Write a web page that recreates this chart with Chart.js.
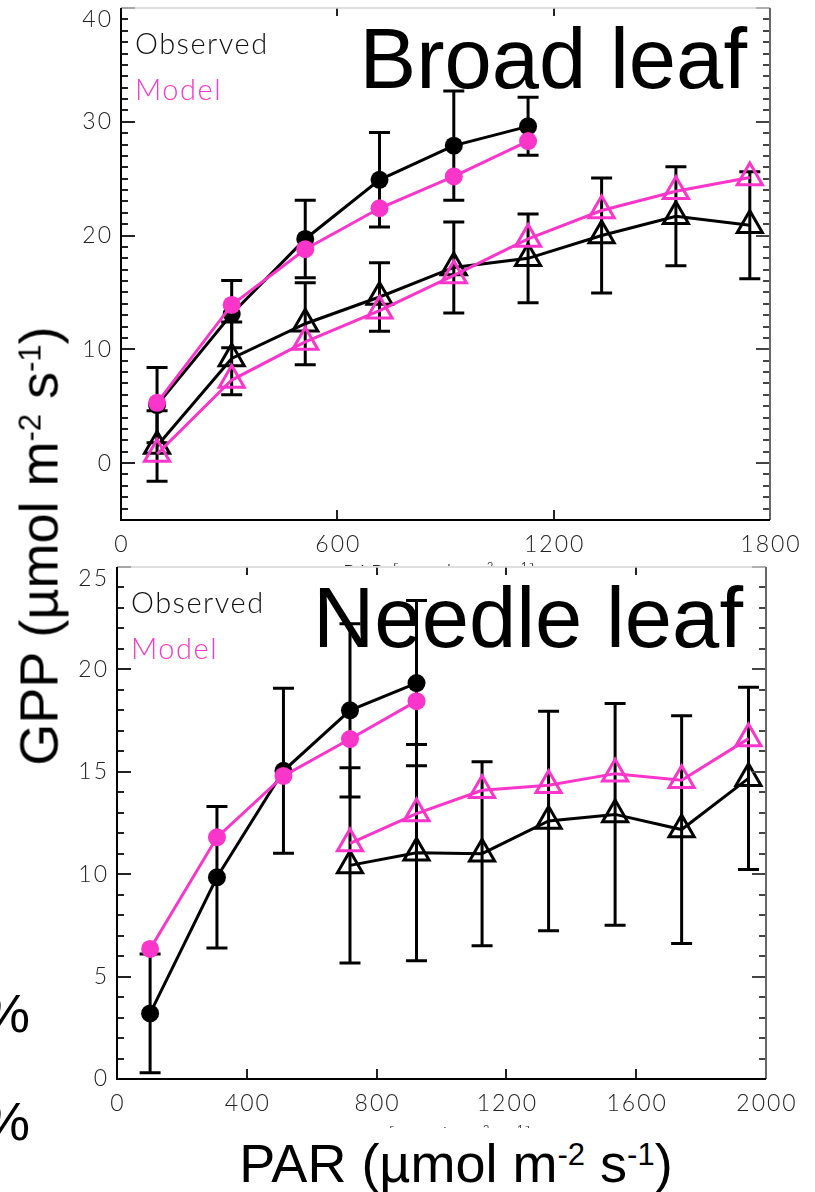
<!DOCTYPE html>
<html>
<head>
<meta charset="utf-8">
<script src="https://cdn.jsdelivr.net/npm/chart.js@4.4.1/dist/chart.umd.min.js"></script>
<style>
html, body { margin: 0; padding: 0; background: #fff; }
body { position: relative; width: 815px; height: 1192px; overflow: hidden; font-family: "Liberation Sans", Arial, sans-serif; }
canvas { position: absolute; left: 0; }
#c1 { top: 0; }
#c2 { top: 540px; }
.big { position: absolute; font-size: 54px; line-height: 54px; color: #000; white-space: nowrap; }
.big sup { font-size: 31px; vertical-align: baseline; position: relative; top: -17px; }
#gpp { left: 43px; top: 546px; transform: translate(-50%, -50%) rotate(-90deg); }
#parbg { position: absolute; left: 0; top: 1128px; width: 815px; height: 64px; background: #fff; }
#par { left: 456px; top: 1136px; transform: translateX(-50%); }
.pct { left: -18px; }
</style>
</head>
<body>
<canvas id="c1" width="815" height="600"></canvas>
<canvas id="c2" width="815" height="600"></canvas>
<div id="gpp" class="big">GPP (µmol m<sup>-2</sup> s<sup>-1</sup>)</div>
<div id="parbg"></div>
<div id="par" class="big">PAR (µmol m<sup>-2</sup> s<sup>-1</sup>)</div>
<div class="big pct" style="top:986px">%</div>
<div class="big pct" style="top:1094px">%</div>
<script>
// ---- Broad leaf (top panel) ----
var broadCircX = [100, 307, 511, 717, 923, 1129];
var broadObsCirc = [5.1, 13.1, 19.7, 24.9, 27.9, 29.6];
var broadObsCircErr = [3.3, 2.95, 3.4, 4.15, 4.8, 2.55];
var broadModCirc = [5.3, 13.9, 18.8, 22.4, 25.2, 28.3];
var broadTriX = [100, 307, 511, 717, 923, 1129, 1333, 1539, 1744];
var broadObsTri = [1.5, 9.2, 12.25, 14.6, 17.2, 18.0, 20.0, 21.7, 20.9];
var broadObsTriErr = [3.1, 3.2, 3.6, 3.0, 4.0, 3.9, 5.05, 4.35, 4.7];
var broadModTri = [0.8, 7.3, 10.65, 13.4, 16.5, 19.7, 22.2, 23.9, 25.1];
var broadXTicks = [0, 600, 1200, 1800];
var broadYTicks = [0, 10, 20, 30, 40];

// ---- Needle leaf (bottom panel) ----
var needleCircX = [102, 308, 513, 718, 923];
var needleObsCirc = [3.2, 9.85, 15.05, 18.0, 19.33];
var needleObsCircErr = [2.9, 3.45, 4.03, 4.23, 4.04];
var needleModCirc = [6.35, 11.8, 14.8, 16.6, 18.45];
var needleTriX = [718, 923, 1125, 1330, 1535, 1740, 1946];
var needleObsTri = [10.43, 11.05, 11.0, 12.6, 12.92, 12.18, 14.68];
var needleObsTriErr = [4.77, 5.28, 4.49, 5.36, 5.41, 5.56, 4.45];
var needleModTri = [11.5, 12.96, 14.1, 14.34, 14.91, 14.59, 16.62];
var needleXTicks = [0, 400, 800, 1200, 1600, 2000];
var needleYTicks = [0, 5, 10, 15, 20, 25];

var PINK = '#f936c9';
var TICK_FONT = '300 23px Lato, sans-serif';

function series(xs, ys, color, style, order, errs) {
    var circ = style === 'circle';
    return {
        data: xs.map(function (x, i) { return { x: x, y: ys[i] }; }),
        borderColor: color,
        borderWidth: 3,
        pointStyle: style,
        pointRadius: circ ? 9 : 14.5,
        pointBorderWidth: circ ? 0 : 3,
        pointBackgroundColor: circ ? color : 'rgba(0,0,0,0)',
        pointBorderColor: color,
        tension: 0,
        fill: false,
        clip: false,
        order: order,
        errors: errs
    };
}

function makePanel(id, p) {
    var panelPlugin = {
        id: 'panel',
        beforeDraw: function (chart) {
            var ctx = chart.ctx, a = chart.chartArea;
            if (p.cover) {
                ctx.save();
                ctx.fillStyle = '#fff';
                ctx.fillRect(0, a.top - 1, chart.width, chart.height - a.top + 1);
                ctx.restore();
            }
        },
        beforeDatasetsDraw: function (chart) {
            var ctx = chart.ctx, a = chart.chartArea;
            var xs = chart.scales.x, ys = chart.scales.y;
            ctx.save();
            ctx.letterSpacing = '0px';
            ctx.fillStyle = '#000';
            ctx.font = '85px "Liberation Sans", Arial, sans-serif';
            ctx.textAlign = 'right';
            ctx.textBaseline = 'alphabetic';
            ctx.fillText(p.title, a.right - 23, a.top + 80);
            ctx.font = '300 29px Lato, sans-serif';
            ctx.letterSpacing = '1.5px';
            ctx.textAlign = 'left';
            ctx.fillStyle = '#111';
            ctx.fillText('Observed', a.left + 14, a.top + 46);
            ctx.fillStyle = PINK;
            ctx.fillText('Model', a.left + 14, a.top + 92);
            ctx.restore();

            // error bars on observed series
            ctx.save();
            ctx.strokeStyle = '#000';
            ctx.lineWidth = 3;
            chart.data.datasets.forEach(function (d) {
                if (!d.errors) return;
                d.data.forEach(function (pt, i) {
                    var px = xs.getPixelForValue(pt.x);
                    var top = ys.getPixelForValue(pt.y + d.errors[i]);
                    var bot = ys.getPixelForValue(pt.y - d.errors[i]);
                    ctx.beginPath();
                    ctx.moveTo(px, top); ctx.lineTo(px, bot);
                    ctx.moveTo(px - 10.5, top); ctx.lineTo(px + 10.5, top);
                    ctx.moveTo(px - 10.5, bot); ctx.lineTo(px + 10.5, bot);
                    ctx.stroke();
                });
            });
            ctx.restore();
        },
        afterDatasetsDraw: function (chart) {
            var ctx = chart.ctx, a = chart.chartArea;
            var xs = chart.scales.x, ys = chart.scales.y;
            ctx.save();
            ctx.lineWidth = 2;
            // y ticks, inward, both sides
            for (var v = p.yMin; v <= p.yMax + 1e-9; v += 1) {
                var py = Math.round(ys.getPixelForValue(v));
                var major = Math.abs(v % p.yMajor) < 1e-9;
                var len = major ? 14 : 7;
                ctx.strokeStyle = '#222';
                ctx.beginPath(); ctx.moveTo(a.left, py); ctx.lineTo(a.left + len, py); ctx.stroke();
                ctx.strokeStyle = '#444';
                ctx.beginPath(); ctx.moveTo(a.right, py); ctx.lineTo(a.right - len, py); ctx.stroke();
            }
            // x ticks, inward, top and bottom
            ctx.strokeStyle = '#222';
            p.xTicks.forEach(function (t) {
                var px = Math.round(xs.getPixelForValue(t));
                ctx.beginPath(); ctx.moveTo(px, a.bottom); ctx.lineTo(px, a.bottom - 10); ctx.stroke();
                ctx.beginPath(); ctx.moveTo(px, a.top); ctx.lineTo(px, a.top + 8); ctx.stroke();
            });
            // frame
            ctx.strokeStyle = '#d4d4d4'; ctx.lineWidth = 1.5;
            ctx.beginPath(); ctx.moveTo(a.left, a.top); ctx.lineTo(a.right, a.top); ctx.stroke();
            ctx.strokeStyle = '#666'; ctx.lineWidth = 2;
            ctx.beginPath(); ctx.moveTo(a.right, a.top); ctx.lineTo(a.right, a.bottom); ctx.stroke();
            ctx.strokeStyle = '#000'; ctx.lineWidth = 2;
            ctx.beginPath(); ctx.moveTo(a.left, a.top); ctx.lineTo(a.left, a.bottom); ctx.lineTo(a.right, a.bottom); ctx.stroke();

            // tick labels
            ctx.font = TICK_FONT;
            ctx.letterSpacing = '2px';
            ctx.fillStyle = '#222';
            ctx.textBaseline = 'middle';
            ctx.textAlign = 'right';
            p.yTicks.forEach(function (t) {
                var py = ys.getPixelForValue(t) + (t === p.yMax ? 12 : 0);
                ctx.fillText(String(t), a.left - 8, py);
            });
            ctx.textAlign = 'center';
            p.xTicks.forEach(function (t) {
                ctx.fillText(String(t), xs.getPixelForValue(t) + 1, a.bottom + 25);
            });
            ctx.restore();
        },
        afterDraw: function (chart) {
            // small x title (mostly hidden under the next panel / big label)
            var ctx = chart.ctx, a = chart.chartArea;
            ctx.save();
            ctx.letterSpacing = '1px';
            ctx.font = '300 22px Lato, sans-serif';
            ctx.fillStyle = '#222';
            ctx.textAlign = 'center';
            ctx.textBaseline = 'top';
            ctx.fillText('PAR [µmol m⁻² s⁻¹]', (a.left + a.right) / 2 - 6, p.subTitleY);
            ctx.restore();
        }
    };

    return new Chart(document.getElementById(id), {
        type: 'line',
        data: { datasets: p.datasets },
        options: {
            responsive: false,
            animation: false,
            devicePixelRatio: 1,
            layout: { autoPadding: false, padding: { top: p.padTop, right: p.padRight, left: 0, bottom: 0 } },
            plugins: { legend: { display: false }, tooltip: { enabled: false } },
            scales: {
                x: {
                    type: 'linear',
                    min: p.xMin, max: p.xMax,
                    grid: { display: false, drawTicks: false },
                    border: { display: false },
                    ticks: { display: false },
                    afterFit: function (s) { s.height = p.xHeight; s.paddingLeft = 0; s.paddingRight = 0; }
                },
                y: {
                    type: 'linear',
                    min: p.yMin, max: p.yMax,
                    grid: { display: false, drawTicks: false },
                    border: { display: false },
                    ticks: { display: false },
                    afterFit: function (s) { s.width = p.yWidth; s.paddingTop = 0; s.paddingBottom = 0; }
                }
            }
        },
        plugins: [panelPlugin]
    });
}

makePanel('c1', {
    title: 'Broad leaf',
    xMin: 0, xMax: 1800, yMin: -5, yMax: 40, yMajor: 10,
    xTicks: broadXTicks, yTicks: broadYTicks,
    padTop: 8, padRight: 45, yWidth: 121, xHeight: 80,
    subTitleY: 562, cover: false,
    datasets: [
        series(broadCircX, broadModCirc, PINK, 'circle', 0),
        series(broadTriX, broadModTri, PINK, 'triangle', 0),
        series(broadCircX, broadObsCirc, '#000', 'circle', 1, broadObsCircErr),
        series(broadTriX, broadObsTri, '#000', 'triangle', 1, broadObsTriErr)
    ]
});

makePanel('c2', {
    title: 'Needle leaf',
    xMin: 0, xMax: 2000, yMin: 0, yMax: 25, yMajor: 5,
    xTicks: needleXTicks, yTicks: needleYTicks,
    padTop: 27, padRight: 49, yWidth: 117, xHeight: 61,
    subTitleY: 585, cover: true,
    datasets: [
        series(needleCircX, needleModCirc, PINK, 'circle', 0),
        series(needleTriX, needleModTri, PINK, 'triangle', 0),
        series(needleCircX, needleObsCirc, '#000', 'circle', 1, needleObsCircErr),
        series(needleTriX, needleObsTri, '#000', 'triangle', 1, needleObsTriErr)
    ]
});
</script>
</body>
</html>
